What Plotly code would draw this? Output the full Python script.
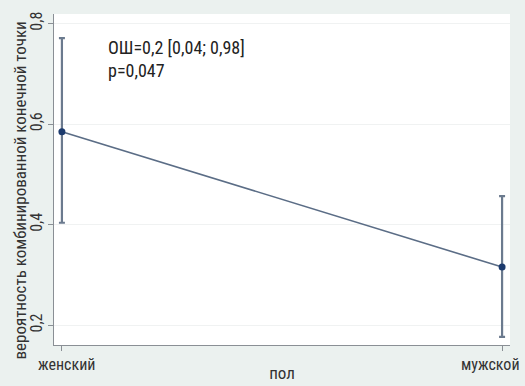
import plotly.graph_objects as go

categories = ["женский", "мужской"]
prob = [0.585, 0.316]
ci_upper = [0.771, 0.457]
ci_lower = [0.404, 0.177]
y_ticks = [0.2, 0.4, 0.6, 0.8]
y_tick_labels = ["0,2", "0,4", "0,6", "0,8"]

x_idx = list(range(len(categories)))
err_plus = [u - p for u, p in zip(ci_upper, prob)]
err_minus = [p - l for p, l in zip(prob, ci_lower)]

FONT = "Liberation Sans Narrow, Roboto Condensed, Arial Narrow, Liberation Sans, sans-serif"

fig = go.Figure()
fig.add_trace(go.Scatter(
    x=x_idx, y=prob, mode="lines+markers",
    line=dict(color="#5b6d86", width=1.6),
    marker=dict(color="#1d3b6e", size=7),
    error_y=dict(type="data", symmetric=False, array=err_plus, arrayminus=err_minus,
                 color="#6b7a8e", thickness=2.2, width=3),
    showlegend=False,
))

fig.add_annotation(
    x=0.100, y=0.729, xref="x", yref="y", xanchor="left", yanchor="middle",
    text="ОШ=0,2 [0,04; 0,98]<br>p=0,047", showarrow=False, align="left",
    font=dict(family=FONT, size=18, color="#222222"),
)

# x category labels (left label centred, right label flush to the edge, as in the original)
fig.add_annotation(x=x_idx[0], y=0, xref="x", yref="paper", yanchor="top", xanchor="center",
                   yshift=-8, xshift=5, text=categories[0], showarrow=False,
                   font=dict(family=FONT, size=16, color="#333333"))
fig.add_annotation(x=x_idx[1], y=0, xref="x", yref="paper", yanchor="top", xanchor="right",
                   yshift=-8, xshift=20, text=categories[1], showarrow=False,
                   font=dict(family=FONT, size=16, color="#333333"))

# y axis title
fig.add_annotation(x=0, y=0.5, xref="paper", yref="paper", xanchor="center", yanchor="middle",
                   xshift=-35, yshift=-11, textangle=-90, showarrow=False,
                   text="вероятность комбинированной конечной точки",
                   font=dict(family=FONT, size=17, color="#333333"))

fig.update_layout(
    width=525, height=386,
    margin=dict(l=54, r=15, t=14, b=41),
    paper_bgcolor="#ebf1ef",
    plot_bgcolor="#ffffff",
    font=dict(family=FONT, size=14, color="#333333"),
)
fig.update_xaxes(
    range=[-0.018, 1.018], tickvals=x_idx, ticktext=["", ""],
    showgrid=False, zeroline=False, showline=True, linecolor="#8a8f95", linewidth=1,
    ticks="outside", ticklen=5, tickcolor="#8a8f95", automargin=False,
    title=dict(text="пол", standoff=14, font=dict(size=17)),
)
fig.update_yaxes(
    range=[0.161, 0.819], tickvals=y_ticks, ticktext=y_tick_labels, tickangle=-90,
    showgrid=True, gridcolor="#f0f2f2", gridwidth=1, zeroline=False,
    showline=True, linecolor="#8a8f95", linewidth=1,
    ticks="outside", ticklen=5, tickcolor="#8a8f95", automargin=False,
    tickfont=dict(size=16),
)

fig.write_html("out.html", config={"displayModeBar": False},
               post_script="document.body.style.margin='0';document.body.style.overflow='hidden';")
